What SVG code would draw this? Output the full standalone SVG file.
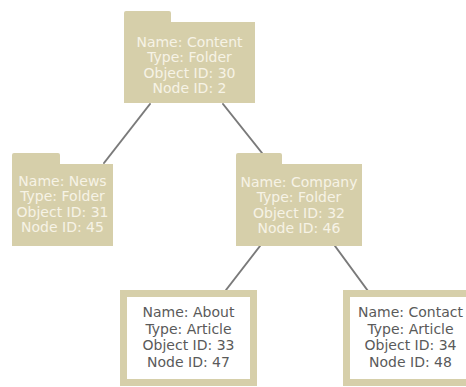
<svg xmlns="http://www.w3.org/2000/svg" width="466" height="387" viewBox="0 0 466 387">
<style>
.folder{fill:#d6cfaa;}
.article{fill:#ffffff;stroke:#d6cfaa;stroke-width:7;}
.ft{font-family:"DejaVu Sans",Verdana,sans-serif;font-size:14px;fill:#f6f3e6;text-anchor:middle;}
.at{font-family:"DejaVu Sans",Verdana,sans-serif;font-size:14px;fill:#5a5a5a;text-anchor:middle;}
.conn line{stroke:#7a7a7a;stroke-width:2;stroke-linecap:round;}
</style>
<rect width="466" height="387" fill="#ffffff"/>
<g id="connectors" class="conn">
<line x1="150" y1="104" x2="104" y2="163"/>
<line x1="223" y1="104" x2="262" y2="153"/>
<line x1="260" y1="246" x2="226" y2="290"/>
<line x1="335" y1="246" x2="368" y2="291"/>
</g>
<g id="content">
<path class="folder" d="M124 13 Q124 11 126 11 L169 11 Q171 11 171 13 L171 22 L255 22 L255 103 L124 103 Z"/>
<text class="ft" x="189.5" y="46.5">Name: Content</text>
<text class="ft" x="189.5" y="62">Type: Folder</text>
<text class="ft" x="189.5" y="77.5">Object ID: 30</text>
<text class="ft" x="189.5" y="93">Node ID: 2</text>
</g>
<g id="news">
<path class="folder" d="M12 155 Q12 153 14 153 L58 153 Q60 153 60 155 L60 164 L113 164 L113 246 L12 246 Z"/>
<text class="ft" x="62.5" y="186">Name: News</text>
<text class="ft" x="62.5" y="201">Type: Folder</text>
<text class="ft" x="62.5" y="216.5">Object ID: 31</text>
<text class="ft" x="62.5" y="232">Node ID: 45</text>
</g>
<g id="company">
<path class="folder" d="M236 155 Q236 153 238 153 L280 153 Q282 153 282 155 L282 164 L362 164 L362 246 L236 246 Z"/>
<text class="ft" x="299" y="187">Name: Company</text>
<text class="ft" x="299" y="202">Type: Folder</text>
<text class="ft" x="299" y="217.5">Object ID: 32</text>
<text class="ft" x="299" y="233">Node ID: 46</text>
</g>
<g id="about">
<rect class="article" x="123.5" y="293.5" width="130" height="89"/>
<text class="at" x="188.5" y="317">Name: About</text>
<text class="at" x="188.5" y="333.5">Type: Article</text>
<text class="at" x="188.5" y="350">Object ID: 33</text>
<text class="at" x="188.5" y="366.5">Node ID: 47</text>
</g>
<g id="contact">
<rect class="article" x="346.5" y="293.5" width="130" height="89"/>
<text class="at" x="410.5" y="317">Name: Contact</text>
<text class="at" x="410.5" y="333.5">Type: Article</text>
<text class="at" x="410.5" y="350">Object ID: 34</text>
<text class="at" x="410.5" y="366.5">Node ID: 48</text>
</g>
</svg>
